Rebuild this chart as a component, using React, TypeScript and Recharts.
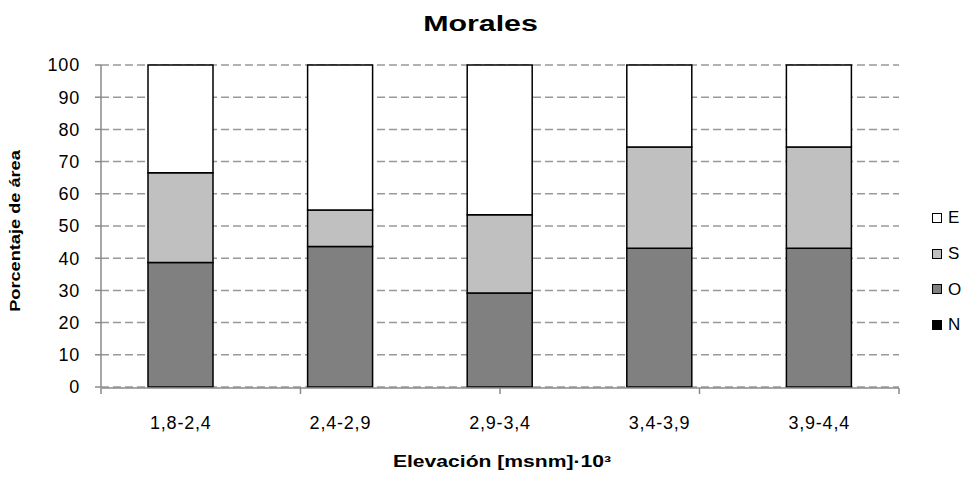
import { BarChart, Bar, XAxis, YAxis, CartesianGrid } from "recharts";

const ranges = ["1,8-2,4", "2,4-2,9", "2,9-3,4", "3,4-3,9", "3,9-4,4"];
const seriesN = [0, 0, 0, 0, 0];
const seriesO = [38.7, 43.6, 29.2, 43.1, 43.1];
const seriesS = [27.8, 11.4, 24.3, 31.4, 31.4];
const seriesE = [33.5, 45.0, 46.5, 25.5, 25.5];
const yTicks = [0, 10, 20, 30, 40, 50, 60, 70, 80, 90, 100];
const edgeTicks = [0, 1, 2, 3, 4, 5];

const FONT = '"Liberation Sans", Arial, sans-serif';
const AXIS_GRAY = "#8a8a8a";

// Legend order top→bottom, as in the reference.
const legendItems = [
  { name: "E", color: "#ffffff" },
  { name: "S", color: "#c0c0c0" },
  { name: "O", color: "#808080" },
  { name: "N", color: "#000000" },
];

const data = ranges.map((range, i) => ({
  range,
  N: seriesN[i],
  O: seriesO[i],
  S: seriesS[i],
  E: seriesE[i],
}));

const tickStyle = { fontSize: 18, fill: "#000", fontFamily: FONT, letterSpacing: 0.8 };

export default function App() {
  return (
    <div style={{ position: "relative", width: 970, height: 479, background: "#fff", fontFamily: FONT }}>
      <style>{"body{margin:0}"}</style>
      <BarChart
        width={970}
        height={479}
        data={data}
        margin={{ top: 65, right: 71, bottom: 51, left: 41 }}
        barSize={65}
      >
        {/* boundary ticks between categories, Excel style */}
        <XAxis
          xAxisId="edge"
          type="number"
          domain={[0, 5]}
          ticks={edgeTicks}
          allowDataOverflow
          tickFormatter={() => ""}
          tickSize={6}
          height={40}
          axisLine={{ stroke: AXIS_GRAY, strokeWidth: 1.5 }}
          tickLine={{ stroke: AXIS_GRAY, strokeWidth: 1.5 }}
        />
        <XAxis
          xAxisId="cat"
          dataKey="range"
          axisLine={false}
          tickLine={false}
          height={1}
          tickSize={0}
          tickMargin={29}
          tick={tickStyle}
          interval={0}
        />
        <YAxis
          domain={[0, 100]}
          ticks={yTicks}
          interval={0}
          width={60}
          tickSize={6}
          tickMargin={15}
          tick={tickStyle}
          axisLine={{ stroke: AXIS_GRAY, strokeWidth: 1.5 }}
          tickLine={{ stroke: AXIS_GRAY, strokeWidth: 1.5 }}
        />
        <CartesianGrid xAxisId="cat" vertical={false} stroke="#999" strokeWidth={1.5} strokeDasharray="8 4" />
        <Bar xAxisId="cat" dataKey="N" stackId="a" fill="#000000" stroke="#000" strokeWidth={1.5} isAnimationActive={false} />
        <Bar xAxisId="cat" dataKey="O" stackId="a" fill="#808080" stroke="#000" strokeWidth={1.5} isAnimationActive={false} />
        <Bar xAxisId="cat" dataKey="S" stackId="a" fill="#c0c0c0" stroke="#000" strokeWidth={1.5} isAnimationActive={false} />
        <Bar xAxisId="cat" dataKey="E" stackId="a" fill="#ffffff" stroke="#000" strokeWidth={1.5} isAnimationActive={false} />
      </BarChart>

      {/* titles */}
      <svg width={970} height={479} style={{ position: "absolute", left: 0, top: 0, pointerEvents: "none" }}>
        <text
          transform="translate(480.5,31) scale(1.38,1)"
          textAnchor="middle"
          fontSize={22}
          fontWeight="bold"
          fontFamily={FONT}
        >
          Morales
        </text>
        <text
          transform="translate(502,467) scale(1.32,1)"
          textAnchor="middle"
          fontSize={16}
          fontWeight="bold"
          fontFamily={FONT}
        >
          Elevación [msnm]·10³
        </text>
        <text
          transform="translate(20,231) rotate(-90) scale(1.3,1)"
          textAnchor="middle"
          fontSize={14}
          fontWeight="bold"
          fontFamily={FONT}
        >
          Porcentaje de área
        </text>
      </svg>

      {/* legend */}
      <div style={{ position: "absolute", left: 932, top: 200 }}>
        {legendItems.map((item) => (
          <div key={item.name} style={{ display: "flex", alignItems: "center", height: 35.7 }}>
            <span
              style={{
                width: 8,
                height: 8,
                background: item.color,
                border: "1px solid #000",
                display: "inline-block",
                marginRight: 6,
              }}
            />
            <span style={{ fontSize: 17, lineHeight: "17px" }}>{item.name}</span>
          </div>
        ))}
      </div>
    </div>
  );
}
